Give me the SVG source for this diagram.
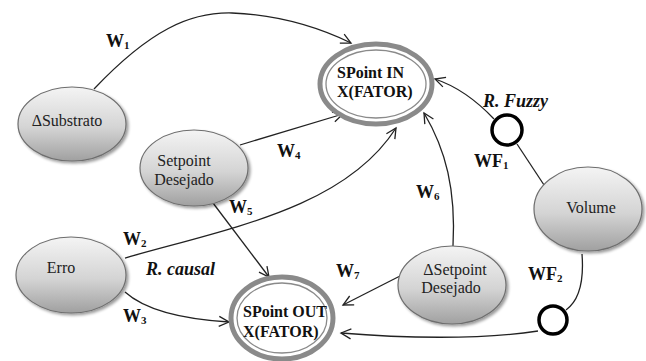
<svg xmlns="http://www.w3.org/2000/svg" width="646" height="361" viewBox="0 0 646 361">
<style>
.n{fill:url(#g);stroke:#6e6e6e;stroke-width:1.2;filter:url(#sh)}
text{font-family:'Liberation Serif','Times New Roman','DejaVu Serif',serif}
.t{font-size:16px;fill:#222}
.b{font-size:16px;font-weight:bold;fill:#111}
.w{font-size:18px;font-weight:bold;fill:#111}
.s{font-size:11px}
.r{font-size:18px;font-weight:bold;font-style:italic;fill:#111}
.e{fill:none;stroke:#222;stroke-width:1.3}
.a{marker-end:url(#ar)}
.ro{fill:#fff;stroke:#8a8a8a;stroke-width:5}
.ri{fill:none;stroke:#8a8a8a;stroke-width:1.3}
.fz{fill:#fff;stroke:#000;stroke-width:3.5}
</style>
<defs>
<linearGradient id="g" x1="0" y1="0" x2="0" y2="1">
<stop offset="0" stop-color="#f4f4f4"/>
<stop offset="0.55" stop-color="#d4d4d4"/>
<stop offset="1" stop-color="#a0a0a0"/>
</linearGradient>
<filter id="sh" x="-20%" y="-20%" width="150%" height="150%">
<feGaussianBlur in="SourceAlpha" stdDeviation="1.5"/>
<feOffset dx="2" dy="2" result="o"/>
<feComponentTransfer><feFuncA type="linear" slope="0.4"/></feComponentTransfer>
<feMerge><feMergeNode/><feMergeNode in="SourceGraphic"/></feMerge>
</filter>
<marker id="ar" markerWidth="14" markerHeight="14" refX="11" refY="6" orient="auto" markerUnits="userSpaceOnUse">
<path d="M1,1 L11,6 L1,11" fill="none" stroke="#222" stroke-width="1.3"/>
</marker>
</defs>
<g id="connectors">
<path class="e a" d="M94,89 C150,30 190,12 232,13 C280,15 320,28 351,43"/>
<path class="e a" d="M240,145 L343,114"/>
<path class="e a" d="M125,258 C230,228 345,208 396,128"/>
<path class="e a" d="M453,246 C456,190 446,150 424,113"/>
<path class="e" d="M546,188 L517,144"/>
<path class="e a" d="M494,119 C476,100 456,86 435,79"/>
<path class="e a" d="M213,203 L269,277"/>
<path class="e a" d="M125,292 C145,310 180,319 229,322"/>
<path class="e a" d="M400,276 L343,305"/>
<path class="e" d="M582,254 C584,280 580,300 566,310"/>
<path class="e a" d="M538,331 C480,340 400,338 341,333"/>
</g>
<g id="node-substrato"><ellipse class="n" cx="72" cy="124" rx="54" ry="37"/><text class="t" x="67" y="126" text-anchor="middle">ΔSubstrato</text></g>
<g id="node-setpoint"><ellipse class="n" cx="194" cy="168" rx="54" ry="38"/><text class="t" x="184" y="166" text-anchor="middle">Setpoint</text><text class="t" x="184" y="185" text-anchor="middle">Desejado</text></g>
<g id="node-erro"><ellipse class="n" cx="71" cy="275" rx="55" ry="38"/><text class="t" x="61" y="273" text-anchor="middle">Erro</text></g>
<g id="node-volume"><ellipse class="n" cx="588" cy="209" rx="54" ry="42"/><text class="t" x="591" y="213" text-anchor="middle">Volume</text></g>
<g id="node-dsetpoint"><ellipse class="n" cx="452" cy="285" rx="54" ry="39"/><text class="t" x="455" y="275" text-anchor="middle">ΔSetpoint</text><text class="t" x="451" y="293" text-anchor="middle">Desejado</text></g>
<g id="node-spin"><ellipse class="ro" cx="376" cy="84" rx="56" ry="40"/><ellipse class="ri" cx="376" cy="84" rx="50" ry="34"/><text class="b" x="337" y="78">SPoint IN</text><text class="b" x="337" y="97">X(FATOR)</text></g>
<g id="node-spout"><ellipse class="ro" cx="282" cy="318" rx="51" ry="41"/><ellipse class="ri" cx="282" cy="318" rx="45" ry="35"/><text class="b" x="243" y="317">SPoint OUT</text><text class="b" x="243" y="337">X(FATOR)</text></g>
<g id="node-fuzzy1"><circle class="fz" cx="507" cy="130" r="15"/></g>
<g id="node-fuzzy2"><circle class="fz" cx="553" cy="320" r="14"/></g>
<g id="labels">
<text class="w" x="106" y="47">W<tspan class="s" dy="2">1</tspan></text>
<text class="w" x="277" y="157">W<tspan class="s" dy="2">4</tspan></text>
<text class="w" x="229" y="213">W<tspan class="s" dy="2">5</tspan></text>
<text class="w" x="123" y="245">W<tspan class="s" dy="2">2</tspan></text>
<text class="w" x="123" y="322">W<tspan class="s" dy="2">3</tspan></text>
<text class="w" x="416" y="198">W<tspan class="s" dy="2">6</tspan></text>
<text class="w" x="336" y="277">W<tspan class="s" dy="2">7</tspan></text>
<text class="w" x="474" y="167">WF<tspan class="s" dy="2">1</tspan></text>
<text class="w" x="528" y="280">WF<tspan class="s" dy="2">2</tspan></text>
<text class="r" x="483" y="107">R. Fuzzy</text>
<text class="r" x="146" y="275">R. causal</text>
</g>
</svg>
